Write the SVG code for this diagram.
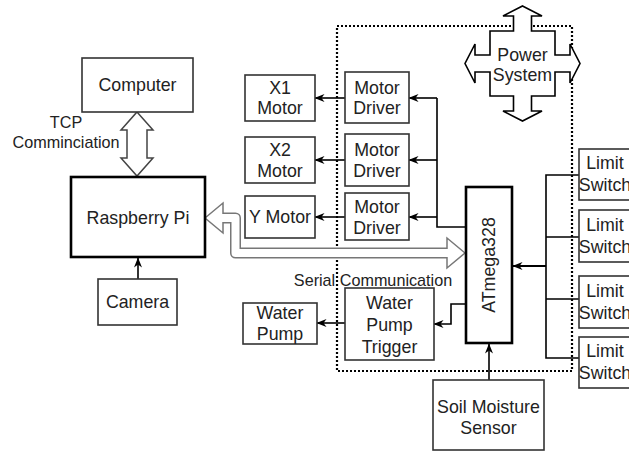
<svg xmlns="http://www.w3.org/2000/svg" width="629" height="452" viewBox="0 0 629 452">
<style>
  .box { fill: #fff; stroke: #333; stroke-width: 1.6; }
  .thick { fill: #fff; stroke: #000; stroke-width: 2.6; }
  .lbl { font-family: "Liberation Sans", Arial, sans-serif; font-size: 17.8px; fill: #222; text-anchor: middle; }
  .elbl { font-family: "Liberation Sans", Arial, sans-serif; font-size: 16.2px; fill: #222; text-anchor: middle; }
  .wire { fill: none; stroke: #000; stroke-width: 1.6; }
  .arr { marker-end: url(#ah); }
  .dotted { fill: none; stroke: #000; stroke-width: 2.2; stroke-dasharray: 2 2; }
</style>
<defs>
  <marker id="ah" viewBox="0 0 10 10" refX="9.5" refY="5" markerWidth="10" markerHeight="10" markerUnits="userSpaceOnUse" orient="auto">
    <path d="M0,1 L10,5 L0,9 L3,5 z" fill="#000"/>
  </marker>
</defs>
<rect width="629" height="452" fill="#fff"/>

<!-- dotted container -->
<rect class="dotted" x="337" y="26" width="235" height="345"/>

<g id="connectors">
  <!-- TCP double arrow -->
  <polygon points="137,112 153,130 147,130 147,158 153,158 137,176 121,158 127,158 127,130 121,130" fill="#fff" stroke="#444" stroke-width="1.5" stroke-linejoin="miter"/>
  <!-- Serial communication double arrow -->
  <path d="M222,218 H235.5 V253 H448" fill="none" stroke="#777" stroke-width="11" stroke-linejoin="round"/>
  <polygon points="205,218 223,203 223,233" fill="#fff" stroke="#777" stroke-width="1.5"/>
  <polygon points="465,253 447,238 447,268" fill="#fff" stroke="#777" stroke-width="1.5"/>
  <path d="M221,218 H235.5 V253 H449" fill="none" stroke="#fff" stroke-width="8" stroke-linejoin="round"/>
  <!-- camera -> pi -->
  <path class="wire arr" d="M138,279 V258"/>
  <!-- drivers -> motors -->
  <path class="wire arr" d="M345,98 H315"/>
  <path class="wire arr" d="M345,160 H315"/>
  <path class="wire arr" d="M345,217 H315"/>
  <!-- atmega -> drivers -->
  <path class="wire" d="M466,227 H437 V98"/>
  <path class="wire arr" d="M437,98 H409"/>
  <path class="wire arr" d="M437,160 H409"/>
  <path class="wire arr" d="M437,217 H409"/>
  <!-- atmega -> water trigger -->
  <path class="wire arr" d="M466,304 H451 V324 H434"/>
  <path class="wire arr" d="M345,323 H317"/>
  <!-- soil -> atmega -->
  <path class="wire arr" d="M489,380 V344"/>
  <!-- limit switches bus -->
  <path class="wire" d="M579,175 H546 V358 H579 M546,237 H579 M546,299 H579"/>
  <path class="wire arr" d="M546,266 H513" style="stroke-width:2.2"/>
</g>

<g id="computer">
  <rect class="box" x="82" y="58" width="111" height="54"/>
  <text class="lbl" x="137.5" y="91">Computer</text>
</g>
<g id="tcp-label">
  <text class="elbl" x="66" y="128">TCP</text>
  <text class="elbl" x="66" y="148">Comminciation</text>
</g>
<g id="raspberry-pi">
  <rect class="thick" x="71" y="177" width="134" height="80"/>
  <text class="lbl" x="138" y="224">Raspberry Pi</text>
</g>
<g id="camera">
  <rect class="box" x="98" y="279" width="79" height="46"/>
  <text class="lbl" x="137.5" y="308">Camera</text>
</g>

<g id="x1-motor">
  <rect class="box" x="245" y="75" width="70" height="46"/>
  <text class="lbl" x="280" y="94">X1</text>
  <text class="lbl" x="280" y="114">Motor</text>
</g>
<g id="x2-motor">
  <rect class="box" x="245" y="137" width="70" height="46"/>
  <text class="lbl" x="280" y="156">X2</text>
  <text class="lbl" x="280" y="177">Motor</text>
</g>
<g id="y-motor">
  <rect class="box" x="245" y="196" width="70" height="42"/>
  <text class="lbl" x="280" y="223">Y Motor</text>
</g>
<g id="water-pump">
  <rect class="box" x="243" y="303" width="74" height="41"/>
  <text class="lbl" x="280" y="319">Water</text>
  <text class="lbl" x="280" y="340">Pump</text>
</g>

<g id="motor-driver-1">
  <rect class="box" x="345" y="72" width="64" height="51"/>
  <text class="lbl" x="377" y="94">Motor</text>
  <text class="lbl" x="377" y="114">Driver</text>
</g>
<g id="motor-driver-2">
  <rect class="box" x="345" y="134" width="64" height="52"/>
  <text class="lbl" x="377" y="156">Motor</text>
  <text class="lbl" x="377" y="177">Driver</text>
</g>
<g id="motor-driver-3">
  <rect class="box" x="345" y="193" width="64" height="47"/>
  <text class="lbl" x="377" y="213">Motor</text>
  <text class="lbl" x="377" y="234">Driver</text>
</g>
<g id="water-pump-trigger">
  <rect class="box" x="345" y="288" width="89" height="72"/>
  <text class="lbl" x="389.5" y="309">Water</text>
  <text class="lbl" x="389.5" y="331">Pump</text>
  <text class="lbl" x="389.5" y="353">Trigger</text>
</g>
<g id="serial-label">
  <text class="elbl" x="373" y="286">Serial Communication</text>
</g>

<g id="atmega328">
  <rect class="thick" x="466" y="187" width="46" height="156"/>
  <text class="lbl" x="0" y="0" transform="translate(495,265) rotate(-90)">ATmega328</text>
</g>

<g id="power-system">
  <polygon points="522.5,6 542,16 531.5,16 531.5,31 555,31 555,55 570,55 570,44 580,63.5 570,83 570,72 555,72 555,96 531.5,96 531.5,111 542,111 522.5,121 503,111 513.5,111 513.5,96 490,96 490,72 475,72 475,83 465,63.5 475,44 475,55 490,55 490,31 513.5,31 513.5,16 503,16" fill="#fff" stroke="#000" stroke-width="1.6" stroke-linejoin="miter"/>
  <text class="lbl" x="522.5" y="61">Power</text>
  <text class="lbl" x="522.5" y="81">System</text>
</g>

<g id="limit-switch-1">
  <rect class="box" x="579" y="149" width="56" height="51"/>
  <text class="lbl" x="605" y="169">Limit</text>
  <text class="lbl" x="605" y="191">Switch</text>
</g>
<g id="limit-switch-2">
  <rect class="box" x="579" y="210" width="56" height="52"/>
  <text class="lbl" x="605" y="231">Limit</text>
  <text class="lbl" x="605" y="253">Switch</text>
</g>
<g id="limit-switch-3">
  <rect class="box" x="579" y="276" width="56" height="52"/>
  <text class="lbl" x="605" y="297">Limit</text>
  <text class="lbl" x="605" y="319">Switch</text>
</g>
<g id="limit-switch-4">
  <rect class="box" x="579" y="337" width="56" height="51"/>
  <text class="lbl" x="605" y="357">Limit</text>
  <text class="lbl" x="605" y="379">Switch</text>
</g>

<g id="soil-moisture-sensor">
  <rect class="box" x="433" y="380" width="111" height="70"/>
  <text class="lbl" x="488.5" y="413">Soil Moisture</text>
  <text class="lbl" x="488.5" y="434">Sensor</text>
</g>
</svg>
